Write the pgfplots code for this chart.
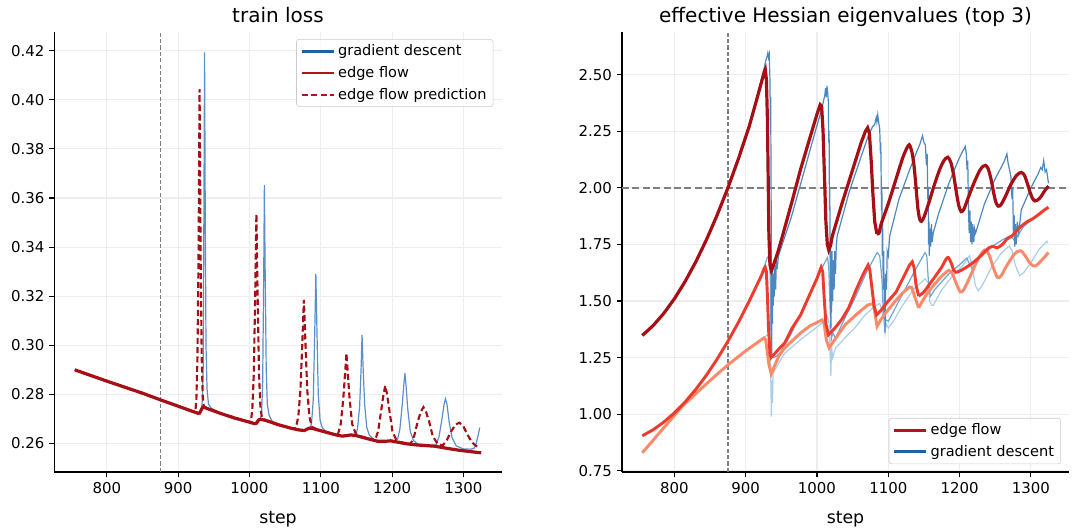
\documentclass[border=0pt]{standalone}
\usepackage{fontspec}
\setmainfont{DejaVu Sans}
\usepackage{pgfplots}
\pgfplotsset{compat=1.18}
\definecolor{efdark}{HTML}{A50F15}
\definecolor{efmid}{HTML}{EF3B2C}
\definecolor{eflight}{HTML}{FC8A6A}
\definecolor{gdone}{HTML}{4D87BF}
\definecolor{gdtwo}{HTML}{6BA6D6}
\definecolor{gdthree}{HTML}{A8CFE8}
\definecolor{gdloss}{HTML}{5B8FC9}
\definecolor{legblue}{HTML}{2060A8}
\definecolor{legred}{HTML}{B0141E}
\definecolor{gridc}{HTML}{EDEDED}
\definecolor{refc}{HTML}{7F7F7F}
\pgfplotsset{
  myaxis/.style={
    scale only axis, anchor=south west,
    width=335.25pt, height=330pt,
    xmin=726.5, xmax=1353.5,
    axis x line*=bottom, axis y line*=left,
    axis line style={-, line width=0.8pt, black},
    tick align=outside, major tick length=4pt,
    tick style={black, line width=0.8pt},
    grid=major, major grid style={gridc, line width=0.8pt},
    xtick={800,900,1000,1100,1200,1300},
    tick label style={font=\fontsize{11.2}{13}\selectfont},
    /pgf/number format/assume math mode=true,
    /pgf/number format/1000 sep={},
    title style={at={(0.5,1)}, anchor=base, yshift=1pt, font=\fontsize{15}{18}\selectfont},
    xlabel style={at={(axis description cs:0.5,0)}, anchor=base, yshift=-39pt, font=\fontsize{13}{15}\selectfont},
    yticklabel style={/pgf/number format/.cd, fixed, fixed zerofill, precision=2},
    legend cell align=left,
    legend style={draw=black!20, rounded corners=2pt, fill=white, fill opacity=0.85, text opacity=1, draw opacity=1,
      font=\fontsize{10.9}{13}\selectfont, row sep=2.6pt, inner ysep=2pt},
    legend image code/.code={\draw[##1] (0pt,0pt) -- (24pt,0pt);},
  }
}
\begin{document}
\begin{tikzpicture}
\useasboundingbox (0,0) rectangle (816pt,398.25pt);
% ================= LEFT: train loss =================
\begin{axis}[myaxis, at={(40.875pt,44.25pt)},
  ymin=0.2484, ymax=0.4276,
  ytick={0.26,0.28,0.30,0.32,0.34,0.36,0.38,0.40,0.42},
  title={train loss}, xlabel={step},
  legend style={at={(0.982,0.984)}, anchor=north east}]
\addlegendimage{legblue, line width=2.2pt}
\addlegendentry{gradient descent}
\addlegendimage{legred, line width=2.2pt}
\addlegendentry{edge flow}
\addlegendimage{legred, line width=1.6pt, dash pattern=on 4.5pt off 2.5pt}
\addlegendentry{edge flow prediction}
\addplot[forget plot, refc, line width=1.1pt, dash pattern=on 3.2pt off 1.6pt] coordinates {(875,0.2484) (875,0.4276)};
% gradient descent loss
\addplot[forget plot, gdloss, line width=0.9pt] coordinates {
(755,0.2900) (800,0.2854) (850,0.2805) (875,0.2778) (900,0.2752) (920,0.2731) (928,0.2723) (932,0.2735)
(933.5,0.2760) (935,0.2900) (936,0.3500) (937,0.4193) (938,0.3500) (939,0.3000) (940.5,0.2820) (942.5,0.2760)
(946,0.2745) (960,0.2722) (980,0.2703) (1000,0.2687) (1010,0.2683) (1015,0.2699) (1017,0.2720) (1018.5,0.2850)
(1020,0.3300) (1020.9,0.3652) (1022,0.3300) (1023.5,0.2900) (1025,0.2760) (1027.5,0.2715) (1032,0.2690)
(1040,0.2677) (1060,0.2661) (1077,0.2653) (1085,0.2663) (1087,0.2680) (1089.5,0.2780) (1091.5,0.3050)
(1093.1,0.3291) (1094.7,0.3050) (1096.5,0.2800) (1099,0.2695) (1102,0.2665) (1106,0.2652) (1120,0.2636)
(1130,0.2630) (1142,0.2635) (1149,0.2635) (1151.5,0.2660) (1154.5,0.2750) (1156.5,0.2900) (1157.9,0.3042)
(1159.5,0.2900) (1161.5,0.2760) (1164.5,0.2665) (1168,0.2635) (1175,0.2614) (1190,0.2609) (1205,0.2607)
(1208,0.2620) (1211,0.2660) (1214,0.2750) (1216.5,0.2840) (1218,0.2886) (1219.5,0.2840) (1222,0.2740)
(1225.5,0.2650) (1230,0.2612) (1236,0.2598) (1250,0.2591) (1262,0.2595) (1266,0.2630) (1270,0.2700)
(1273,0.2760) (1274.9,0.2782) (1277,0.2760) (1280,0.2690) (1284,0.2625) (1290,0.2590) (1300,0.2578)
(1310,0.2577) (1315,0.2580) (1318,0.2600) (1320.5,0.2630) (1323,0.2665)};
% edge flow
\addplot[forget plot, efdark, line width=2.4pt] coordinates {
(755,0.2900) (800,0.2854) (850,0.2805) (875,0.2778) (900,0.2752) (920,0.2731) (928,0.2723) (930,0.2724)
(932,0.2735) (934.5,0.2748) (937,0.2747) (942,0.2741) (960,0.2722) (980,0.2703) (1000,0.2687) (1007,0.2681)
(1010,0.2683) (1012.5,0.2695) (1015,0.2699) (1023,0.2694) (1040,0.2677) (1060,0.2661) (1070,0.2655)
(1077,0.2653) (1081,0.2659) (1085,0.2663) (1090,0.2660) (1105,0.2648) (1120,0.2636) (1130,0.2630)
(1136,0.2632) (1142,0.2635) (1150,0.2632) (1165,0.2620) (1180,0.2609) (1190,0.2609) (1198,0.2611)
(1205,0.2607) (1220,0.2599) (1235,0.2594) (1250,0.2591) (1260,0.2589) (1270,0.2584) (1280,0.2579)
(1293,0.2573) (1310,0.2567) (1325,0.2562)};
% edge flow prediction
\addplot[forget plot, efdark, line width=1.6pt, dash pattern=on 4.5pt off 2.5pt] coordinates {
(755,0.2900) (800,0.2854) (875,0.2778) (920,0.2731) (924,0.2728) (925.5,0.2780) (927,0.2950) (928.5,0.3350)
(929.5,0.3800) (930,0.4043) (930.5,0.3800) (931.5,0.3350) (933,0.2950) (934.5,0.2790) (936,0.2750)
(940,0.2744) (960,0.2722) (1000,0.2687) (1002,0.2690) (1004,0.2740) (1006,0.2880) (1008,0.3200)
(1009.7,0.3535) (1011.4,0.3200) (1013.4,0.2880) (1015.4,0.2745) (1017.5,0.2705) (1023,0.2694)
(1040,0.2677) (1060,0.2661) (1065,0.2662) (1068.5,0.2710) (1071.5,0.2820) (1074,0.3000) (1076.3,0.3185)
(1078.6,0.3000) (1081,0.2820) (1084,0.2710) (1087.5,0.2668) (1095,0.2657) (1120,0.2636) (1124,0.2636)
(1128,0.2680) (1131.5,0.2780) (1134,0.2880) (1136,0.2968) (1138,0.2880) (1140.5,0.2780) (1144,0.2680)
(1149,0.2640) (1155,0.2630) (1176,0.2613) (1180.5,0.2650) (1184.5,0.2730) (1188,0.2800) (1190.5,0.2836)
(1193,0.2800) (1196.5,0.2730) (1200.5,0.2650) (1206,0.2614) (1212,0.2605) (1226,0.2598) (1231,0.2630)
(1236,0.2690) (1240.5,0.2730) (1244,0.2748) (1247.5,0.2730) (1252,0.2690) (1257,0.2630) (1264,0.2598)
(1271,0.2592) (1277,0.2615) (1283,0.2650) (1289,0.2677) (1294.4,0.2685) (1300,0.2670) (1306,0.2635)
(1312,0.2605) (1318,0.2590) (1322,0.2581)};
\end{axis}
% ================= RIGHT: eigenvalues =================
\begin{axis}[myaxis, at={(466.5pt,44.25pt)},
  ymin=0.745, ymax=2.688,
  ytick={0.75,1.00,1.25,1.50,1.75,2.00,2.25,2.50},
  title={effective Hessian eigenvalues (top 3)}, xlabel={step},
  legend style={at={(0.982,0.018)}, anchor=south east}]
\addlegendimage{legred, line width=2.2pt}
\addlegendentry{edge flow}
\addlegendimage{legblue, line width=2.2pt}
\addlegendentry{gradient descent}
\addplot[forget plot, refc, line width=1.1pt, dash pattern=on 3.2pt off 1.6pt] coordinates {(875,0.745) (875,2.688)};
\addplot[forget plot, refc, line width=1.1pt, dash pattern=on 5.2pt off 2.6pt] coordinates {(726.5,2) (1353.5,2)};
% GD eigenvalue 3
\addplot[forget plot, gdthree, line width=0.9pt] coordinates {
(755,0.83) (770,0.885) (785,0.94) (800,0.995) (811,1.035) (825,1.076) (840,1.12) (855,1.163) (875,1.218)
(900,1.280) (925,1.335)
(930,1.35) (934,1.34) (935,1.20) (936,0.99) (937,1.15) (937.5,1.05) (938.5,1.18) (940,1.19) (947,1.23)
(955,1.27) (977,1.33) (1000,1.385) (1010,1.41) (1014.8,1.431) (1017,1.40) (1018.5,1.25) (1019.4,1.17)
(1020.5,1.30) (1022,1.25) (1026,1.293) (1040,1.34) (1052.9,1.38) (1065,1.43) (1079.8,1.475) (1088,1.49)
(1092,1.45) (1094,1.40) (1095.5,1.359) (1097,1.40) (1100,1.38) (1107,1.41) (1120,1.48) (1135,1.55)
(1151.6,1.598) (1156,1.58) (1158,1.50) (1160.5,1.482) (1163,1.48) (1175,1.55) (1190,1.61) (1205,1.66)
(1214,1.70) (1218,1.65) (1222,1.57) (1226,1.545) (1232,1.57) (1245,1.65) (1258,1.71) (1269.5,1.743)
(1274,1.72) (1278,1.66) (1284.3,1.612) (1290,1.625) (1300,1.67) (1312,1.73) (1322.4,1.764) (1324,1.755)};
% GD eigenvalue 2
\addplot[forget plot, gdtwo, line width=0.9pt] coordinates {
(755,0.905) (770,0.931) (785,0.965) (800,1.006) (815,1.054) (830,1.110) (845,1.173) (860,1.244) (875,1.322)
(890,1.407) (905,1.500) (915,1.566) (922,1.612) (926,1.650)
(930,1.69) (933,1.70) (934.5,1.60) (935.5,1.30) (936.5,1.25) (940,1.25) (948,1.27) (963,1.35) (990,1.53)
(1010,1.665) (1014.8,1.692) (1016.5,1.65) (1018,1.50) (1020,1.33) (1022,1.36) (1026,1.337) (1040,1.43)
(1052.9,1.511) (1070,1.63) (1084.3,1.714) (1088,1.70) (1091,1.60) (1093,1.45) (1095,1.42) (1100,1.41)
(1120,1.53) (1140,1.65) (1151.6,1.714) (1154,1.70) (1156,1.60) (1159,1.52) (1165,1.55) (1185,1.62)
(1200,1.66) (1210,1.69) (1213,1.67) (1218,1.64) (1230,1.70) (1245,1.74) (1260,1.77) (1272,1.79)
(1276,1.77) (1280,1.78) (1290,1.83) (1300,1.855) (1312,1.885) (1324,1.915)};
% GD eigenvalue 1
\addplot[forget plot, gdone, line width=0.9pt] coordinates {
(755,1.348) (770,1.391) (785,1.445) (800,1.510) (815,1.586) (830,1.673) (845,1.771) (860,1.880) (875,1.999)
(890,2.130) (905,2.272) (915,2.385) (922,2.48)
(926,2.53) (928,2.56) (930,2.58) (931,2.595) (932,2.575) (933,2.59) (934,2.48) (934.5,2.30)
(935,2.40) (935.5,2.10) (936,1.70) (936.5,1.25) (937,1.55) (937.5,1.40) (938,1.65) (938.5,1.48) (939,1.62)
(940,1.52) (941,1.66) (942,1.55) (943,1.68) (944,1.64) (946,1.70) (963.2,1.862) (980,2.05) (995,2.22)
(1005,2.33) (1009,2.38) (1011,2.41) (1012,2.44) (1013,2.40) (1014,2.45) (1015,2.42) (1016,2.38)
(1016.5,2.20) (1017,2.25) (1017.5,1.90) (1018,2.00) (1018.5,1.60) (1019,1.75) (1019.5,1.38) (1020,1.65)
(1020.5,1.45) (1021,1.72) (1022,1.50) (1023,1.68) (1024,1.55) (1025,1.72) (1026,1.62) (1027,1.74)
(1028.3,1.787) (1045,1.98) (1060,2.12) (1072,2.23) (1078,2.27) (1081,2.28) (1083,2.31) (1084,2.29)
(1085.2,2.322) (1086.5,2.29) (1088,2.26) (1089,2.15) (1089.5,2.20) (1090.5,1.90) (1091,2.00) (1091.5,1.70)
(1092,1.85) (1093,1.55) (1093.5,1.72) (1094.5,1.45) (1095,1.60) (1095.5,1.36) (1096.5,1.62) (1097.5,1.55)
(1098.5,1.72) (1100,1.70) (1102,1.787) (1115,1.95) (1130,2.08) (1140,2.16) (1144,2.19) (1146,2.21)
(1148,2.23) (1150,2.20) (1152,2.19) (1153.5,2.10) (1154.5,2.15) (1155.5,1.95) (1156,2.00) (1156.5,1.75)
(1157,1.85) (1157.5,1.70) (1158.5,1.82) (1159.5,1.74) (1160.5,1.84) (1161.5,1.76) (1163,1.80) (1170,1.88)
(1185,2.02) (1198,2.12) (1204,2.16) (1206,2.17) (1208,2.183) (1209.5,2.15) (1210.5,2.08) (1211.5,2.12)
(1212.5,1.90) (1213.5,1.80) (1214.5,1.90) (1215.5,1.76) (1216.5,1.85) (1217.5,1.75) (1218.5,1.84)
(1220,1.76) (1221,1.82) (1222.5,1.80) (1235,1.93) (1250,2.04) (1260,2.10) (1263,2.12) (1266.4,2.15)
(1268,2.11) (1270,2.08) (1272,2.05) (1273.5,1.95) (1274.5,2.00) (1275.5,1.80) (1276.5,1.88) (1277.5,1.74)
(1278.5,1.84) (1279.5,1.75) (1281,1.85) (1283,1.80) (1286.5,1.902) (1300,2.00) (1310,2.06) (1314,2.09)
(1316,2.08) (1318,2.12) (1320,2.07) (1322,2.08) (1324.7,2.02)};
% edge flow eigenvalue 3
\addplot[forget plot, eflight, line width=2.2pt] coordinates {
(755,0.83) (770,0.885) (785,0.94) (800,0.995) (811,1.035) (825,1.076) (840,1.12) (855,1.163) (875,1.218)
(900,1.280) (925.6,1.337)
(928,1.33) (930,1.28) (932.5,1.22) (935.9,1.178) (940,1.21) (947,1.26) (954.7,1.293) (977,1.359) (990,1.39)
(1000,1.405) (1007,1.417) (1010,1.40) (1013,1.33) (1017,1.293) (1025,1.33) (1039.5,1.395) (1055,1.44)
(1070.9,1.482) (1079,1.489) (1081,1.45) (1084.3,1.388) (1090,1.42) (1097.8,1.453) (1110,1.50) (1120,1.535)
(1130,1.562) (1133,1.56) (1137,1.52) (1142.6,1.47)};
\addplot[forget plot, eflight, line width=2.2pt, smooth, tension=0.45] coordinates {
(1142.6,1.47) (1148,1.50) (1155,1.535) (1165,1.575) (1175,1.61)
(1185,1.635) (1190,1.62) (1195,1.58) (1201,1.54) (1206,1.55) (1215,1.61) (1225,1.68) (1233,1.72)
(1237.2,1.725) (1242,1.70) (1247,1.65) (1252.9,1.605) (1258,1.61) (1265,1.65) (1275,1.70) (1281,1.718)
(1286.5,1.721) (1292,1.70) (1298,1.67) (1303,1.656) (1306.7,1.655) (1312,1.67) (1318,1.69) (1324.7,1.714)};
% edge flow eigenvalue 2
\addplot[forget plot, efmid, line width=2.2pt] coordinates {
(755,0.905) (770,0.931) (785,0.965) (800,1.006) (815,1.054) (830,1.110) (845,1.173) (860,1.244) (875,1.322)
(890,1.407) (905,1.500) (915,1.566) (922,1.612) (926,1.645) (927.3,1.650) (929,1.63)
(930.5,1.52) (932,1.38) (934,1.27) (935.5,1.25) (940,1.265) (947,1.29) (954.7,1.315) (965,1.38) (977,1.438)
(990,1.53) (1000,1.60) (1005.8,1.649) (1008,1.63) (1010,1.52) (1012.5,1.40) (1016,1.351) (1025,1.38)
(1035,1.42) (1044,1.467) (1055,1.55) (1065,1.62) (1071.7,1.659) (1074,1.64) (1077,1.56) (1080,1.48)
(1083.5,1.438) (1090,1.46) (1100,1.50) (1111,1.54) (1122,1.61) (1130,1.66) (1133.6,1.673) (1136,1.65)
(1139,1.57) (1142.6,1.522)};
\addplot[forget plot, efmid, line width=2.2pt, smooth, tension=0.45] coordinates {
(1142.6,1.522) (1150,1.54) (1158,1.575) (1165,1.605) (1175,1.65) (1181,1.685) (1184.3,1.692)
(1188,1.67) (1192,1.635) (1195,1.627) (1200,1.632) (1210,1.65) (1219,1.67) (1230,1.70) (1241.7,1.736)
(1248,1.74) (1253,1.735) (1260,1.75) (1267,1.775) (1273,1.786) (1280,1.81) (1286.5,1.83) (1295.5,1.852)
(1302,1.862) (1310,1.88) (1318,1.90) (1324.7,1.914)};
% edge flow eigenvalue 1
\addplot[forget plot, efdark, line width=2.4pt] coordinates {
(755,1.348) (770,1.391) (785,1.445) (800,1.510) (815,1.586) (830,1.673) (845,1.771) (860,1.880) (875,1.999)
(890,2.130) (905,2.272) (915,2.385) (922,2.465) (926,2.51) (927.5,2.522)
(929,2.48) (930.5,2.30) (931.5,2.05) (932.5,1.80) (934,1.66) (936,1.635) (938,1.65) (945,1.715) (951.6,1.787)
(965,1.94) (977,2.082) (990,2.22) (1000,2.325) (1004.5,2.367) (1006.5,2.36) (1008.5,2.25) (1010.5,2.05)
(1012.5,1.85) (1014.5,1.75) (1016.5,1.725) (1019,1.745) (1021.5,1.787) (1035,1.93) (1050,2.08) (1062,2.20)
(1068,2.25) (1071,2.265) (1073.5,2.24) (1076,2.12) (1078.5,1.97) (1081,1.85) (1084,1.797)};
\addplot[forget plot, efdark, line width=2.4pt, smooth, tension=0.45] coordinates {
(1084,1.797) (1087,1.80)
(1090,1.84) (1100,1.93) (1110,2.03) (1120,2.13) (1126,2.175) (1129.5,2.19) (1133,2.16) (1136,2.10)
(1139,2.00) (1141.5,1.91) (1144,1.862) (1146.5,1.852) (1150,1.87) (1157,1.935) (1165,2.017) (1172,2.08)
(1178,2.12) (1183.5,2.135) (1188,2.11) (1192,2.05) (1196,1.97) (1199,1.92) (1202.2,1.895) (1206,1.905)
(1212,1.955) (1220,2.02) (1228,2.075) (1233,2.095) (1236.3,2.099) (1240,2.085) (1244,2.04) (1248,1.975)
(1251,1.935) (1254.3,1.919) (1258,1.925) (1264,1.96) (1272,2.015) (1280,2.055) (1286.5,2.068) (1291,2.055)
(1295,2.02) (1299,1.98) (1302,1.955) (1305.4,1.942) (1309,1.945) (1314,1.96) (1319,1.985) (1324.7,2.008)};
\end{axis}
\end{tikzpicture}
\end{document}
